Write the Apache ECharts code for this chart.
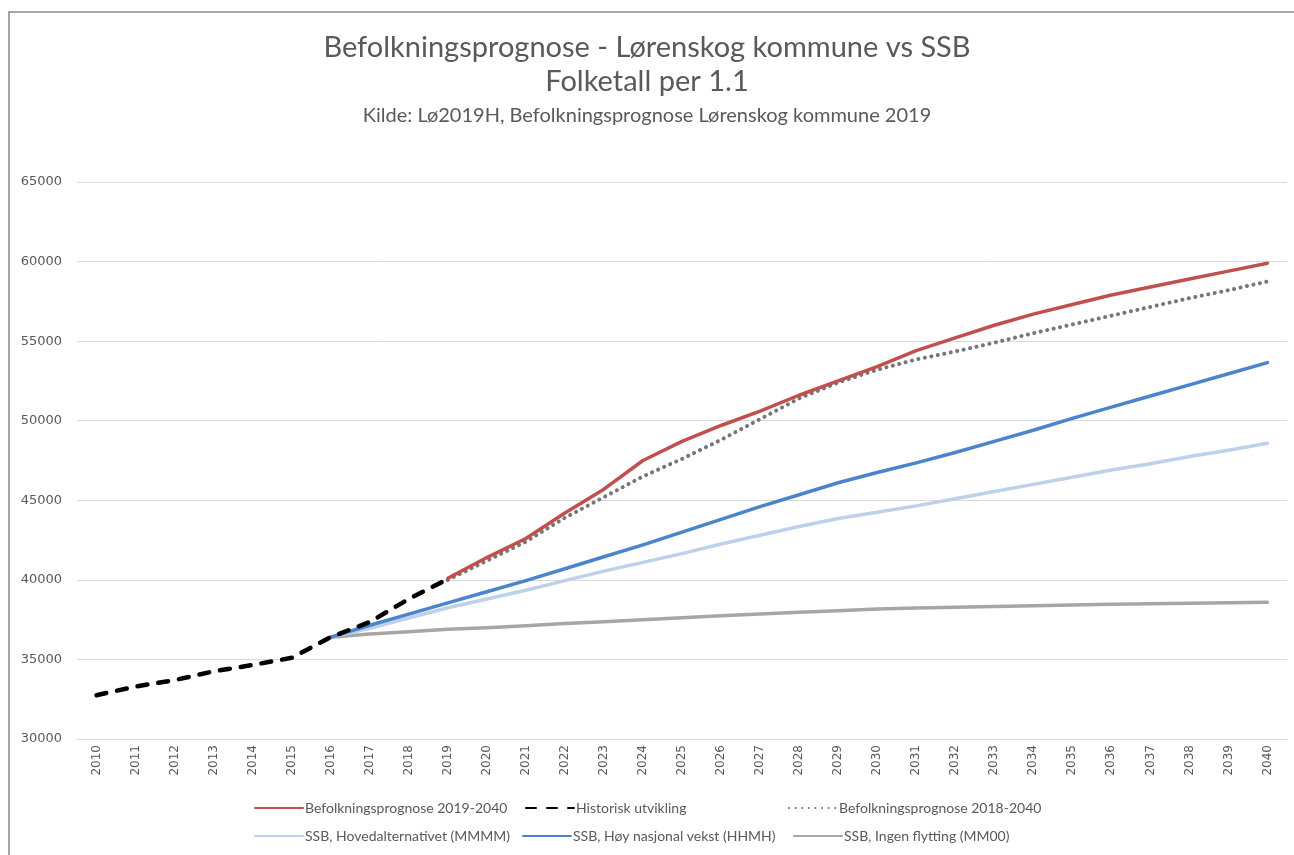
<!DOCTYPE html>
<html>
<head>
<meta charset="utf-8">
<script src="https://cdn.jsdelivr.net/npm/echarts@6/dist/echarts.min.js"></script>
<style>
  html, body { margin: 0; padding: 0; background: #fff; }
  #chart { width: 1294px; height: 855px; }
</style>
</head>
<body>
<div id="chart"></div>
<script>
const years = [
  "2010", "2011", "2012", "2013", "2014", "2015", "2016", "2017", "2018", "2019",
  "2020", "2021", "2022", "2023", "2024", "2025", "2026", "2027", "2028", "2029",
  "2030", "2031", "2032", "2033", "2034", "2035", "2036", "2037", "2038", "2039", "2040",
];

// Lørenskog kommune prognose 2019-2040
const prognose2019 = [
  null, null, null, null, null, null, null, null, null, 40100,
  41400, 42600, 44200, 45700, 47500, 48700, 49700, 50600, 51600, 52500,
  53400, 54400, 55200, 56000, 56700, 57300, 57900, 58400, 58900, 59400, 59900,
];

const historisk = [
  32750, 33300, 33700, 34250, 34650, 35100, 36400, 37350, 38800, 40050,
  null, null, null, null, null, null, null, null, null, null,
  null, null, null, null, null, null, null, null, null, null, null,
];

const prognose2018 = [
  null, null, null, null, null, null, null, null, null, 40000,
  41200, 42400, 43900, 45200, 46500, 47600, 48800, 50100, 51400, 52400,
  53200, 53850, 54350, 54900, 55500, 56050, 56600, 57150, 57700, 58200, 58750,
];

const ssbMMMM = [
  null, null, null, null, null, null, 36400, 36950, 37600, 38250,
  38800, 39350, 39950, 40550, 41100, 41650, 42250, 42800, 43350, 43850,
  44250, 44650, 45100, 45550, 46000, 46450, 46900, 47300, 47750, 48150, 48580,
];

const ssbHHMH = [
  null, null, null, null, null, null, 36400, 37150, 37850, 38550,
  39250, 39950, 40700, 41450, 42200, 43000, 43800, 44600, 45350, 46100,
  46750, 47350, 48000, 48700, 49400, 50150, 50850, 51550, 52250, 52950, 53650,
];

const ssbMM00 = [
  null, null, null, null, null, null, 36400, 36600, 36740, 36890,
  36990, 37120, 37250, 37370, 37500, 37620, 37750, 37850, 37960, 38060,
  38170, 38230, 38280, 38330, 38380, 38420, 38460, 38500, 38530, 38560, 38590,
];

const seriesNames = [
  "Befolkningsprognose 2019-2040",
  "Historisk utvikling",
  "Befolkningsprognose 2018-2040",
  "SSB, Hovedalternativet (MMMM)",
  "SSB, Høy nasjonal vekst (HHMH)",
  "SSB, Ingen flytting (MM00)",
];

const yMin = 30000;
const yMax = 65000;
const yStep = 5000;

const textColor = "#595959";
const font = "Lato, 'Open Sans', sans-serif";

const chart = echarts.init(document.getElementById("chart"));

// legend items sit at fixed spots, like the Excel legend
const legendPos = [
  [254, 801], [525, 801], [788, 801],
  [254, 829], [522, 829], [793, 829],
];

function line(name, data, style, z) {
  return {
    name,
    type: "line",
    data,
    symbol: "none",
    smooth: false,
    z,
    lineStyle: Object.assign({ cap: "round", join: "round" }, style),
    itemStyle: { color: style.color },
  };
}

chart.setOption({
  animation: false,
  title: [
    {
      text: "Befolkningsprognose - Lørenskog kommune vs SSB",
      left: "center",
      top: 28,
      textStyle: { fontFamily: font, fontSize: 29, fontWeight: "normal", color: textColor },
    },
    {
      text: "Folketall per 1.1",
      left: "center",
      top: 62,
      textStyle: { fontFamily: font, fontSize: 29, fontWeight: "normal", color: textColor },
    },
    {
      text: "Kilde: Lø2019H, Befolkningsprognose Lørenskog kommune 2019",
      left: "center",
      top: 101,
      textStyle: { fontFamily: font, fontSize: 20, fontWeight: "normal", color: textColor },
    },
  ],
  graphic: [
    {
      type: "rect",
      shape: { x: 9, y: 12, width: 1300, height: 860 },
      style: { fill: "none", stroke: "#a6a6a6", lineWidth: 2 },
      silent: true,
    },
  ],
  legend: seriesNames.map((name, i) => ({
    data: [name],
    left: legendPos[i][0],
    top: legendPos[i][1],
    padding: 0,
    itemWidth: 48,
    itemHeight: 14,
    itemGap: 2,
    itemStyle: { opacity: 0 },
    textStyle: { fontFamily: font, fontSize: 14, color: textColor, padding: [0, 0, 0, -3] },
  })),
  grid: { left: 77, right: 7, top: 182, bottom: 116 },
  xAxis: {
    type: "category",
    data: years,
    boundaryGap: true,
    axisLine: { lineStyle: { color: "#d9d9d9", width: 1 } },
    axisTick: { show: false },
    axisLabel: {
      rotate: 90,
      interval: 0,
      margin: 6,
      color: textColor,
      fontFamily: "DejaVu Sans",
      fontSize: 12,
    },
  },
  yAxis: {
    type: "value",
    min: yMin,
    max: yMax,
    interval: yStep,
    axisLine: { show: false },
    axisTick: { show: false },
    axisLabel: {
      margin: 15,
      color: textColor,
      fontFamily: "DejaVu Sans",
      fontSize: 13,
      formatter: (v) => String(v),
    },
    splitLine: { lineStyle: { color: "#d9d9d9", width: 1 } },
  },
  series: [
    line(seriesNames[0], prognose2019, { color: "#c0504d", width: 3.5 }, 5),
    line(seriesNames[1], historisk, { color: "#000000", width: 4.5, type: [10, 11] }, 6),
    line(seriesNames[2], prognose2018, { color: "#767676", width: 4, type: [0.1, 6.5] }, 4),
    line(seriesNames[3], ssbMMMM, { color: "#bdd1ea", width: 3.5 }, 2),
    line(seriesNames[4], ssbHHMH, { color: "#4a84cc", width: 3.5 }, 3),
    line(seriesNames[5], ssbMM00, { color: "#a6a6a6", width: 3.5 }, 1),
  ],
});
</script>
</body>
</html>
